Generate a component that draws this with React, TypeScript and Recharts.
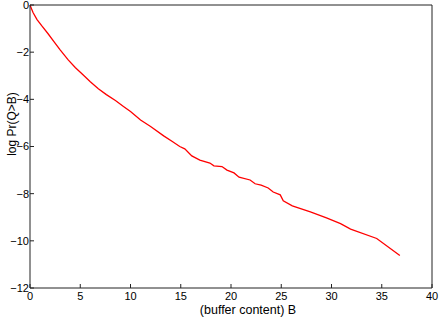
import React from "react";
import { LineChart, Line, XAxis, YAxis } from "recharts";

// buffer content B and log Pr(Q>B)
const bufferB = [
  0, 0.3, 0.7, 1.2, 1.8, 2.4, 3.0, 3.8, 4.5, 5.3, 6.0, 6.8, 7.6, 8.5, 9.3, 10.0,
  11.0, 12.0, 13.3, 14.2, 14.9, 15.4, 16.1, 16.9, 17.9, 18.3, 19.1, 19.6, 20.3,
  20.8, 21.9, 22.4, 23.0, 23.7, 24.2, 24.9, 25.2, 26.1, 27.9, 29.5, 30.9, 31.9,
  34.5, 36.8,
];
const logPr = [
  0, -0.32, -0.62, -0.9, -1.22, -1.56, -1.9, -2.33, -2.65, -2.97, -3.25, -3.55,
  -3.8, -4.05, -4.3, -4.52, -4.88, -5.15, -5.55, -5.8, -6.0, -6.1, -6.4, -6.58,
  -6.7, -6.82, -6.85, -7.0, -7.12, -7.3, -7.42, -7.58, -7.64, -7.76, -7.93,
  -8.05, -8.3, -8.52, -8.77, -9.03, -9.27, -9.5, -9.9, -10.62,
];
const xTicks = [0, 5, 10, 15, 20, 25, 30, 35, 40];
const yTicks = [-12, -10, -8, -6, -4, -2, 0];

const data = bufferB.map((b, i) => ({ b, p: logPr[i] }));

const font = "'Liberation Sans', Arial, Helvetica, sans-serif";
const axisColor = "#222";
const fmt = (v: number) => (v < 0 ? "\u2212" + Math.abs(v) : String(v));

function XLabel() {
  return (
    <text x={248} y={314} textAnchor="middle" fontSize={12.5} fontFamily={font} fill="#000">
      (buffer content) B
    </text>
  );
}

function YLabel() {
  return (
    <text
      x={16}
      y={124}
      textAnchor="middle"
      fontSize={12}
      fontFamily={font}
      fill="#000"
      transform="rotate(-90 16 124)"
    >
      log Pr(Q&gt;B)
    </text>
  );
}

export default function App() {
  const tickStyle = { fontSize: 11, fontFamily: font, fill: "#000" };
  return (
    <div style={{ position: "absolute", left: 0, top: 0, width: 439, height: 321, background: "#fff" }}>
      <LineChart width={439} height={321} data={data} margin={{ top: 0, right: 0, left: 0, bottom: 0 }}>
        <XAxis
          dataKey="b"
          type="number"
          domain={[0, 40]}
          ticks={xTicks}
          interval={0}
          height={33}
          tickSize={-4}
          tickMargin={8}
          tick={tickStyle}
          axisLine={{ stroke: axisColor }}
          tickLine={{ stroke: axisColor }}
          label={<XLabel />}
        />
        <XAxis
          xAxisId="top"
          orientation="top"
          dataKey="b"
          type="number"
          domain={[0, 40]}
          ticks={xTicks}
          interval={0}
          height={5}
          tickSize={-4}
          tick={false}
          axisLine={{ stroke: axisColor }}
          tickLine={{ stroke: axisColor }}
        />
        <YAxis
          dataKey="p"
          type="number"
          domain={[-12, 0]}
          ticks={yTicks}
          interval={0}
          width={30}
          tickSize={-4}
          tickMargin={5}
          tick={tickStyle}
          tickFormatter={fmt}
          axisLine={{ stroke: axisColor }}
          tickLine={{ stroke: axisColor }}
          label={<YLabel />}
        />
        <YAxis
          yAxisId="right"
          orientation="right"
          dataKey="p"
          type="number"
          domain={[-12, 0]}
          ticks={yTicks}
          interval={0}
          width={7}
          tickSize={-4}
          tick={false}
          axisLine={{ stroke: axisColor }}
          tickLine={{ stroke: axisColor }}
        />
        <Line
          type="linear"
          dataKey="p"
          stroke="#ff0000"
          strokeWidth={1.3}
          dot={false}
          activeDot={false}
          isAnimationActive={false}
        />
      </LineChart>
    </div>
  );
}
